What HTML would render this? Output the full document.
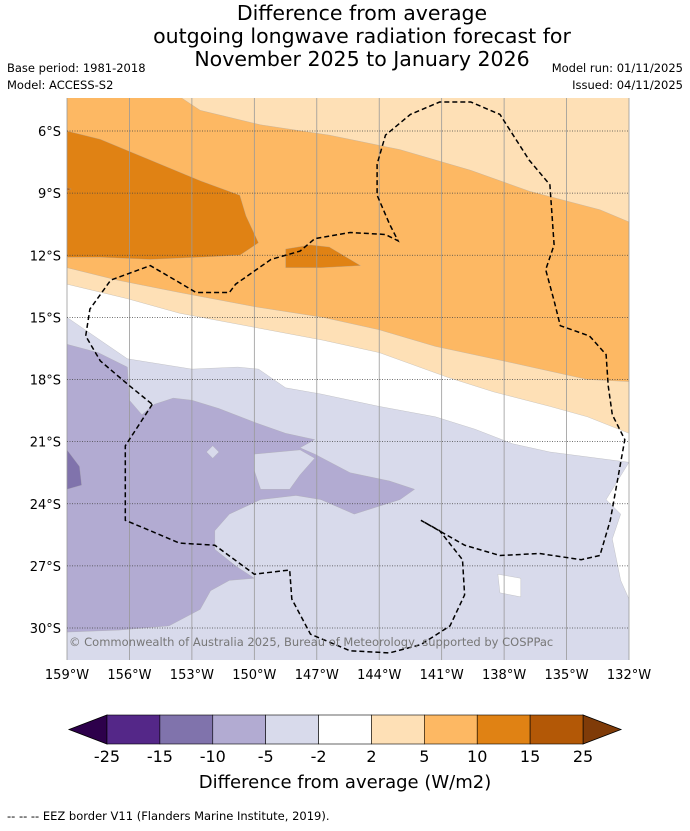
<!DOCTYPE html>
<html><head><meta charset="utf-8">
<style>
html,body{margin:0;padding:0;background:#fff;}
body{width:690px;height:827px;overflow:hidden;font-family:"DejaVu Sans","Liberation Sans",sans-serif;}
svg text{font-family:"DejaVu Sans","Liberation Sans",sans-serif;}
</style></head>
<body>
<svg id="chart" width="690" height="827" viewBox="0 0 690 827" xmlns="http://www.w3.org/2000/svg">
<g font-size="20.5" text-anchor="middle" fill="#000">
<text x="362" y="20">Difference from average</text>
<text x="362" y="43">outgoing longwave radiation forecast for</text>
<text x="362" y="66">November 2025 to January 2026</text>
</g>
<text x="7" y="72" font-size="11.5">Base period: 1981-2018</text>
<text x="7" y="89" font-size="11.5">Model: ACCESS-S2</text>
<text x="683" y="72" font-size="11.5" text-anchor="end">Model run: 01/11/2025</text>
<text x="683" y="89" font-size="11.5" text-anchor="end">Issued: 04/11/2025</text>
<defs><clipPath id="mapclip"><rect x="67" y="98" width="562" height="562"/></clipPath></defs>
<g id="map" clip-path="url(#mapclip)"></g>
<g id="grid"></g>
<g id="eez"></g>
<text x="69" y="646" font-size="11.5" fill="#777">© Commonwealth of Australia 2025, Bureau of Meteorology, supported by COSPPac</text>
<g id="axes"></g>
<g id="cbar"></g>
<text x="345" y="788" font-size="18" text-anchor="middle">Difference from average (W/m2)</text>
<text x="7" y="820" font-size="11.5">--  --  -- EEZ border V11 (Flanders Marine Institute, 2019).</text>
</svg>
<script>
// Longitude in degrees West, latitude in degrees South
const lonTicks = [159,156,153,150,147,144,141,138,135,132];
const latTicks = [6,9,12,15,18,21,24,27,30];
const levels = [-25,-15,-10,-5,-2,2,5,10,15,25];
const levelColors = ["#542788","#8073ac","#b2abd2","#d8daeb","#ffffff","#fee0b6","#fdb863","#e08214","#b35806"];
const underColor = "#2d004b";
const overColor = "#7f3b08";

const whiteBand = [[159.5,4],[131.5,4],[131.5,22],[132,22.0],[135.8,21.5],[137.6,21.1],[139.4,20.4],[141.3,19.8],[144,19.3],[146.8,18.7],[148.5,18.4],[149.8,17.5],[150.8,17.4],[153,17.5],[156.1,17.0],[159,15.0],[159.5,15]];
const lightOrange = [[159.5,4],[131.5,4],[131.5,20.6],[132,20.6],[134,19.8],[135.8,19.3],[138.5,18.6],[140.7,17.9],[144,16.7],[146.7,16.1],[149.9,15.5],[153.6,14.8],[156.1,14.1],[159,13.4],[159.5,13.4]];
const mediumOrange = [[159.5,4],[154.1,4],[152.6,5.0],[149.7,5.7],[146.4,6.2],[143,6.9],[139.6,7.9],[136.8,8.9],[133.4,9.8],[131.5,10.6],[131.5,18.1],[132,18.1],[134,18.0],[137.6,17.2],[141.3,16.4],[144,15.6],[146.7,15.0],[149.9,14.5],[153.6,13.8],[156.6,13.2],[159,12.6],[159.5,12.6]];
const darkOrange = [[159.5,6],[159,6],[157.4,6.4],[155,7.4],[152.6,8.4],[150.7,9.1],[150.4,10.1],[149.8,11.4],[150.7,12.0],[152.6,12.1],[155,12.2],[157.4,12.1],[159,12.1],[159.5,12.1]];
const darkOrangeBlob = [[148.5,11.7],[147.3,11.5],[146.4,11.6],[144.9,12.5],[146.8,12.6],[148.5,12.6]];
const darkestOrange = [[159.5,8.6],[158.8,8.8],[159.5,9.1]];
const midPurple = [[159.5,16.3],[159,16.3],[157.5,16.7],[156.1,17.4],[156,19.0],[155.4,19.7],[154.8,19.2],[153.9,18.9],[153,19.0],[151.7,19.4],[149.9,20.1],[148.5,20.6],[147.1,20.9],[147.8,21.3],[147.1,21.6],[145.4,22.5],[143.5,22.9],[142.3,23.3],[143,23.8],[145.2,24.5],[146.8,23.8],[148,23.6],[149.7,23.8],[151.2,24.5],[151.9,25.3],[151.9,26.2],[150.9,27.0],[150,27.6],[151.2,27.7],[152.1,28.2],[152.6,29.1],[154.1,29.9],[156.5,30.1],[159,30.2],[159.5,30.2]];
const lightPurpleHole = [[150,21.6],[147.8,21.4],[147.1,21.8],[147.8,22.6],[148.3,23.3],[149.7,23.3],[150,22.4]];
const lightPurpleHole2 = [[152.3,21.5],[152.0,21.2],[151.7,21.5],[152.0,21.8]];
const darkPurple = [[159.5,21.4],[159,21.4],[158.4,22.2],[158.3,23.1],[159,23.3],[159.5,23.3]];
const whitePatch = [[138.3,27.4],[137.2,27.6],[137.2,28.5],[138.2,28.3]];
const whiteRight = [[131.5,22],[132,22],[133.1,23.8],[132.4,24.5],[132.8,25.7],[132.4,27.7],[132,28.6],[131.5,28.6]];
const eezPath = [[154.9,19.2],[156.2,21.2],[156.2,24.8],[155,25.3],[153.6,25.9],[151.9,26.0],[150,27.4],[148.3,27.2],[148.2,28.6],[147.3,30.3],[145.4,31.1],[143.5,31.2],[142,30.8],[140.6,29.9],[139.9,28.4],[140,26.7],[141.1,25.3],[142,24.8],[139.9,26.0],[138.2,26.5],[136.3,26.4],[134.3,26.7],[133.4,26.5],[132.9,24.8],[132.2,20.9],[132.8,19.7],[133,18.3],[133.1,16.8],[133.9,15.9],[135.3,15.4],[135.6,14.2],[136,12.7],[135.6,11.5],[135.8,8.6],[136.8,7.4],[138.2,5.2],[139.6,4.6],[141.1,4.6],[142.5,5.2],[143.7,6.2],[144.1,7.6],[144.1,9.1],[143.5,10.5],[143.1,11.3],[143.7,11.0],[145.4,10.9],[147.1,11.2],[147.8,11.8],[149.2,12.2],[150.9,13.4],[151.2,13.8],[152.8,13.8],[153.8,13.2],[155,12.5],[156.9,13.2],[157.9,14.6],[158.1,15.9],[157.4,17.1],[156,18.3],[154.9,19.2]];

const NS="http://www.w3.org/2000/svg";
const X0=67,X1=629,Y0=131,Y1=628;
function xs(w){return X0+(159-w)*(X1-X0)/27;}
function ys(s){return Y0+(s-6)*(Y1-Y0)/24;}
function pts(a){return a.map(p=>xs(p[0]).toFixed(1)+","+ys(p[1]).toFixed(1)).join(" ");}
function mk(tag,parent,attrs){const e=document.createElementNS(NS,tag);for(const k in attrs)e.setAttribute(k,attrs[k]);parent.appendChild(e);return e;}

const map=document.getElementById('map');
const bg=mk('rect',map,{x:67,y:98,width:562,height:562,fill:levelColors[3]});


const layers=[
 [whiteBand,levelColors[4],'band-neutral'],
 [lightOrange,levelColors[5],'band-2-5'],
 [mediumOrange,levelColors[6],'band-5-10'],
 [darkOrange,levelColors[7],'band-10-15'],
 [darkOrangeBlob,levelColors[7],'band-10-15-blob'],
 [darkestOrange,levelColors[8],'band-15-25'],
 [midPurple,levelColors[2],'band-minus10-minus5'],
 [lightPurpleHole,levelColors[3],'band-minus5-hole'],
 [lightPurpleHole2,levelColors[3],'small-hole'],
 [darkPurple,levelColors[1],'band-minus15-minus10'],
 [whitePatch,levelColors[4],'neutral-patch'],
 [whiteRight,levelColors[4],'neutral-patch-east']
];
layers.forEach(l=>{
 const p=mk('polygon',map,{points:pts(l[0]),fill:l[1],stroke:'#aaa',"stroke-width":0.3});
 
 
});

const grid=document.getElementById('grid');
const axes=document.getElementById('axes');
lonTicks.forEach(w=>{
 const ln=mk('line',grid,{x1:xs(w),x2:xs(w),y1:98,y2:660,stroke:'#999',"stroke-width":0.8});
 
 
 const t=mk('text',axes,{x:xs(w),y:679,"font-size":13,"text-anchor":"middle"});
 t.textContent=w+"°W";
 
 
});
latTicks.forEach(s=>{
 const ln=mk('line',grid,{x1:67,x2:629,y1:ys(s),y2:ys(s),stroke:'#444',"stroke-width":0.7,"stroke-dasharray":"1,1.5"});
 
 
 const t=mk('text',axes,{x:61,y:ys(s)+5,"font-size":13,"text-anchor":"end"});
 t.textContent=s+"°S";
 
 
});

const eez=document.getElementById('eez');
const ep=mk('polyline',eez,{points:pts(eezPath),fill:'none',stroke:'#000',"stroke-width":1.5,"stroke-dasharray":"5,3"});



const cbar=document.getElementById('cbar');
const CX0=107,CX1=583,CY=715,CH=29;
const bw=(CX1-CX0)/levelColors.length;
const lt=mk('polygon',cbar,{points:`69,${CY+CH/2} ${CX0},${CY} ${CX0},${CY+CH}`,fill:underColor,stroke:'#000',"stroke-width":0.8});


const rt=mk('polygon',cbar,{points:`621,${CY+CH/2} ${CX1},${CY} ${CX1},${CY+CH}`,fill:overColor,stroke:'#000',"stroke-width":0.8});


levelColors.forEach((c,i)=>{
 const r=mk('rect',cbar,{x:CX0+i*bw,y:CY,width:bw,height:CH,fill:c,stroke:'#000',"stroke-width":0.6});
 
 
});
levels.forEach((v,i)=>{
 const t=mk('text',cbar,{x:CX0+i*bw,y:762,"font-size":16,"text-anchor":"middle"});
 t.textContent=v;
 
 
});
</script>
</body></html>
